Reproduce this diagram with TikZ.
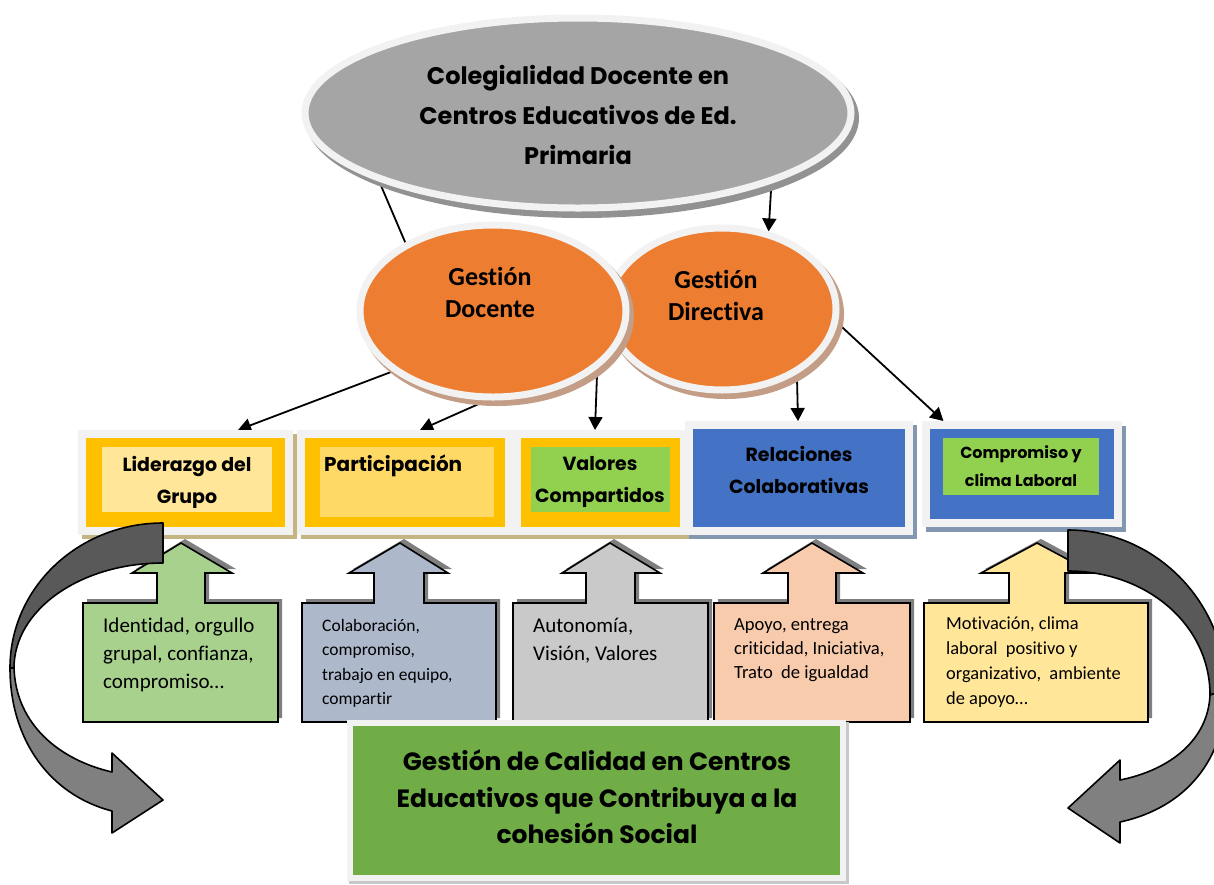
\documentclass[tikz,border=0pt]{standalone}
\usepackage{fontspec}
\setmainfont{Carlito}[Ligatures=NoCommon]
\newfontfamily\comicfont{Poppins}
\usetikzlibrary{shapes.geometric,arrows.meta}
\pgfdeclarelayer{back}
\pgfsetlayers{back,main}

\definecolor{ringgray}{HTML}{F2F2F2}
\definecolor{topgray}{HTML}{A5A5A5}
\definecolor{topshade}{HTML}{929292}
\definecolor{orangefill}{HTML}{ED7D31}
\definecolor{orangeshade}{HTML}{C39D85}
\definecolor{gold}{HTML}{FFC000}
\definecolor{paleyellow}{HTML}{FFE699}
\definecolor{softgold}{HTML}{FFD966}
\definecolor{limegreen}{HTML}{92D050}
\definecolor{royalblue}{HTML}{4472C4}
\definecolor{tanshade}{HTML}{C4B383}
\definecolor{slateshade}{HTML}{8497B0}
\definecolor{calloutshade}{HTML}{7F7F7F}
\definecolor{sage}{HTML}{A9D18E}
\definecolor{bluegray}{HTML}{ADB9CA}
\definecolor{lightgray}{HTML}{C9C9C9}
\definecolor{peach}{HTML}{F8CBAD}
\definecolor{grassgreen}{HTML}{70AD47}
\definecolor{darkarc}{HTML}{595959}
\definecolor{midarc}{HTML}{808080}
\definecolor{bottomshade}{HTML}{C8C8C8}

% up-arrow callout: left, right, stem left, stem right, head left, head right, tip x, fill
\newcommand{\upcallout}[8]{%
  \fill[calloutshade, shift={(4,-4)}] (#1,603) -- (#3,603) -- (#3,573) -- (#5,573) -- (#7,543) -- (#6,573) -- (#4,573) -- (#4,603) -- (#2,603) -- (#2,722) -- (#1,722) -- cycle;
  \filldraw[fill=#8, calloutline] (#1,603) -- (#3,603) -- (#3,573) -- (#5,573) -- (#7,543) -- (#6,573) -- (#4,573) -- (#4,603) -- (#2,603) -- (#2,722) -- (#1,722) -- cycle;}

\begin{document}
\begin{tikzpicture}[x=1pt,y=-1pt,
  orell/.style={ellipse, fill=orangefill, draw=ringgray, line width=7pt, inner sep=0},
  framebox/.style={rectangle, draw=ringgray, line width=8pt, inner sep=0},
  headtext/.style={font=\comicfont\bfseries\fontsize{19}{32}\selectfont, align=center, inner sep=0},
  ovaltext/.style={font=\bfseries\fontsize{26}{32}\selectfont, align=center, inner sep=0},
  calltext/.style={anchor=north west, align=left, inner sep=0},
  conn/.style={line width=1.8pt, -{Triangle[length=13pt,width=14pt]}},
  linkline/.style={line width=1.8pt},
  calloutline/.style={draw=black, line width=1.6pt, line join=miter},
  arcline/.style={draw=black, line width=1.6pt, line join=round}]
\useasboundingbox (0,0) rectangle (1214,884);

% title oval
\fill[topshade] (582,118) ellipse [x radius=277pt, y radius=100pt];
\node[ellipse, fill=topgray, draw=ringgray, line width=7pt, inner sep=0,
      minimum width=546pt, minimum height=190pt] (col) at (578,113) {};
\node[font=\comicfont\bfseries\fontsize{24}{40}\selectfont, align=center, inner sep=0] (coltxt) at (578,115)
  {Colegialidad Docente en\\Centros Educativos de Ed.\\Primaria};

% management ovals
\fill[orangeshade] (726,314) ellipse [x radius=118pt, y radius=85pt];
\node[orell, minimum width=228pt, minimum height=162pt] (gdir) at (722,309) {};
\fill[orangeshade] (497,316) ellipse [x radius=137pt, y radius=90pt];
\node[orell, minimum width=266pt, minimum height=172pt] (gd) at (493,311) {};
\node[ovaltext] (gdtxt) at (490,292) {Gestión\\Docente};
\node[ovaltext] (gdirtxt) at (716,295) {Gestión\\Directiva};

% dimension boxes
\fill[tanshade] (82,434) rectangle (297,539);
\node[framebox, fill=gold, minimum width=207pt, minimum height=97pt] (lid) at (185.5,482.5) {};
\fill[paleyellow] (102,447) rectangle (272,512);
\node[headtext] (lidtxt) at (187,482) {Liderazgo del\\Grupo};

\fill[tanshade] (301,434) rectangle (517,539);
\node[framebox, fill=gold, minimum width=208pt, minimum height=97pt] (par) at (405,482.5) {};
\fill[softgold] (320,447) rectangle (494,517);
\node[headtext, anchor=west, font=\comicfont\bfseries\fontsize{20}{32}\selectfont] (partxt) at (324,466) {Participación};

\fill[tanshade] (517,434) rectangle (692,539);
\node[framebox, fill=gold, minimum width=167pt, minimum height=97pt] (val) at (600.5,482.5) {};
\fill[limegreen] (531,447) rectangle (670,512);
\node[headtext] (valtxt) at (600,482) {Valores\\Compartidos};

\fill[slateshade] (689,425) rectangle (917,539);
\node[framebox, fill=royalblue, minimum width=220pt, minimum height=106pt] (rel) at (799,478) {};
\node[headtext] (reltxt) at (799,470) {Relaciones\\Colaborativas};

\fill[slateshade] (926,426) rectangle (1126,532);
\node[framebox, fill=royalblue, minimum width=192pt, minimum height=98pt] (com) at (1022,474) {};
\fill[limegreen] (943,438) rectangle (1099,495);
\node[headtext, font=\comicfont\bfseries\fontsize{16}{28}\selectfont] (comtxt) at (1021,466) {Compromiso y\\clima Laboral};

% connectors
\begin{pgfonlayer}{back}
\draw[linkline] (col.199) -- (gd.142);
\draw[conn] (col.340) -- (gdir.59);
\draw[conn] (gd.211) -- (lid.45);
\draw[conn] (gd.266) -- (par.74);
\draw[conn] (gd.331) -- (val.96);
\draw[conn] (gdir.319) -- (rel.91);
\draw[conn] (gdir.353) -- (com.146);
\end{pgfonlayer}

% callouts
\upcallout{83}{278}{157}{205}{132}{232}{181}{sage}
\node[calltext, font=\fontsize{21}{28}\selectfont] (c1) at (103,618)
  {Identidad, orgullo\\grupal, confianza,\\compromiso…};
\upcallout{302}{496}{374}{424}{349}{448}{400}{bluegray}
\node[calltext, font=\fontsize{17.5}{24.5}\selectfont] (c2) at (322,619)
  {Colaboración,\\compromiso,\\trabajo en equipo,\\compartir};
\upcallout{513}{708}{586}{635}{562}{660}{610}{lightgray}
\node[calltext, font=\fontsize{21}{28}\selectfont] (c3) at (533,618)
  {Autonomía,\\Visión, Valores};
\upcallout{714}{910}{788}{836}{763}{863}{812}{peach}
\node[calltext, font=\fontsize{18.6}{24}\selectfont] (c4) at (734,618)
  {Apoyo, entrega\\criticidad, Iniciativa,\\Trato~ de igualdad};
\upcallout{924}{1148}{1009}{1065}{981}{1093}{1037}{paleyellow}
\node[calltext, font=\fontsize{18.4}{25}\selectfont] (c5) at (946,617)
  {Motivación, clima\\laboral~ positivo y\\organizativo,~ ambiente\\de apoyo…};

% outcome box
\fill[bottomshade] (349,722) rectangle (849,884);
\node[rectangle, draw=ringgray, fill=grassgreen, line width=6pt, inner sep=0,
      minimum width=493pt, minimum height=155pt] (gc) at (596.5,800.5) {};
\node[font=\comicfont\bfseries\fontsize{25}{36.5}\selectfont, align=center, inner sep=0] (gctxt) at (597,797)
  {Gestión de Calidad en Centros\\Educativos que Contribuya a la\\cohesión Social};

% curved return arrows
\filldraw[fill=darkarc, arcline] (163,523) .. controls (78,523) and (10,588) .. (10,668)
  -- (14,668) .. controls (14,610) and (80,563) .. (163,563) -- cycle;
\filldraw[fill=midarc, arcline] (10,668) .. controls (10,740) and (50,795) .. (112,811)
  -- (112,833) -- (163,800) -- (112,753) -- (112,772)
  .. controls (60,760) and (16,725) .. (14,668) -- cycle;
\filldraw[fill=darkarc, arcline] (1068,530) .. controls (1155,530) and (1226,602) .. (1226,690)
  -- (1210,695) .. controls (1210,625) and (1147,571) .. (1068,571) -- cycle;
\filldraw[fill=midarc, arcline] (1226,690) .. controls (1226,760) and (1185,808) .. (1120,822)
  -- (1120,843) -- (1068,808) -- (1120,760) -- (1120,780)
  .. controls (1170,770) and (1208,740) .. (1210,695) -- cycle;
\end{tikzpicture}
\end{document}
